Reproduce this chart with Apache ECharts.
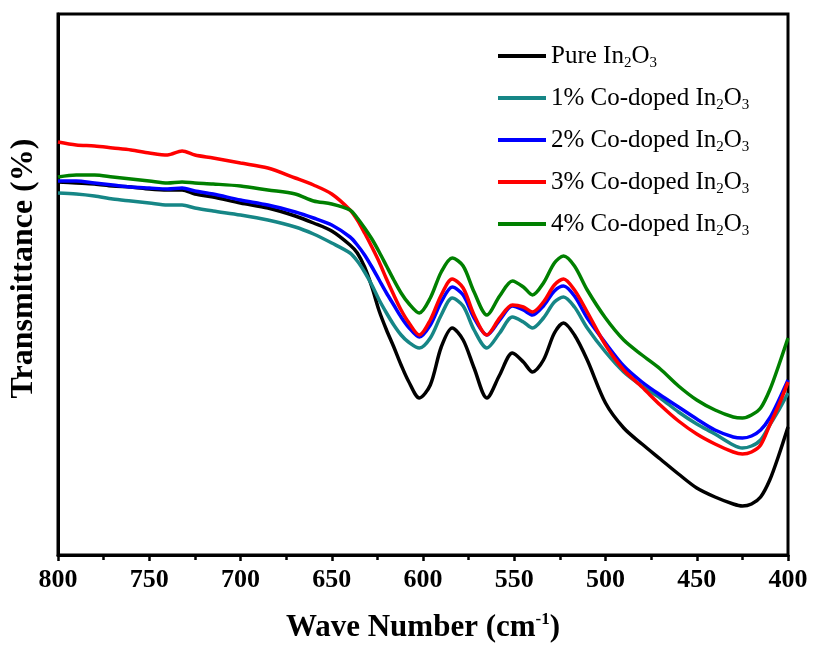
<!DOCTYPE html>
<html>
<head>
<meta charset="utf-8">
<script src="https://cdn.jsdelivr.net/npm/echarts@6/dist/echarts.min.js"></script>
<style>
html,body{margin:0;padding:0;background:#fff;}
#chart{width:813px;height:653px;}
</style>
</head>
<body>
<div id="chart"></div>
<script>
// Wave numbers (cm^-1)
const waveNumbers = [800,790,780,770,760,750,740,732,725,715,700,685,670,660,650,640,636,632,628,624,620,616,612,608,602,596,590,584,578,572,565,558,551,545,540,534,528,523,517,510,500,490,480,470,460,450,440,430,425,420,415,410,405,400];

// Transmittance (arbitrary units)
const pureIn2O3 = [373,372,371,369,368,366,365,365,361,358,352,347,339,332,324,310,302,288,268,244,225,208,190,174,157,170,208,227,215,187,157,180,202,193,183,195,222,232,220,195,152,127,111,96,81,67,58,51,49,51,58,75,100,128];
const co1 = [362,361,359,356,354,352,350,350,347,344,340,335,328,321,312,302,294,283,270,255,242,230,220,213,207,217,240,257,249,225,207,222,238,233,227,237,253,258,248,227,203,183,169,157,143,131,121,110,107,109,115,130,145,162];
const co2 = [374,374,372,370,368,367,366,367,364,361,355,350,343,337,330,318,310,300,288,275,262,250,238,228,218,230,253,268,260,237,220,235,249,245,240,249,264,269,259,237,212,189,173,160,148,136,125,118,117,119,125,137,155,175];
const co3 = [413,410,409,407,405,402,400,404,400,397,392,387,377,370,361,345,335,322,308,293,276,260,245,233,220,235,260,276,267,240,220,237,250,248,243,253,270,276,265,243,210,185,168,150,134,121,111,103,101,103,110,130,150,173];
const co4 = [378,380,380,378,376,374,372,373,372,371,369,365,361,354,351,345,337,327,316,303,289,275,262,252,242,257,283,297,289,263,240,259,274,268,260,272,292,299,289,265,237,215,200,186,169,155,145,138,137,140,147,165,190,217];

const seriesNames = ['Pure In{sub|2}O{sub|3}','1% Co-doped In{sub|2}O{sub|3}','2% Co-doped In{sub|2}O{sub|3}','3% Co-doped In{sub|2}O{sub|3}','4% Co-doped In{sub|2}O{sub|3}'];
const seriesKeys = ['Pure','1%','2%','3%','4%'];
const seriesData = [pureIn2O3, co1, co2, co3, co4];
const colors = ['#000000','#168686','#0000ff','#ff0000','#008000'];
const xTicks = [800,750,700,650,600,550,500,450,400];

const FONT = '"Liberation Serif", "Times New Roman", serif';

const chart = echarts.init(document.getElementById('chart'), null, {renderer:'canvas'});

const series = seriesData.map((vals, i) => ({
  name: seriesKeys[i],
  type: 'line',
  data: waveNumbers.map((w, j) => [w, vals[j]]),
  smooth: 0.3,
  showSymbol: false,
  symbol: 'none',
  lineStyle: {color: colors[i], width: 3.5},
  itemStyle: {color: colors[i]},
  z: 2 + i
}));

chart.setOption({
  animation: false,
  backgroundColor: '#fff',
  color: colors,
  grid: {left: 58, right: 25, top: 14, bottom: 98, show: true, borderColor: '#000', borderWidth: 3, backgroundColor: 'transparent'},
  legend: {
    orient: 'vertical',
    left: 493,
    top: 36,
    icon: 'rect',
    itemWidth: 48,
    itemHeight: 4,
    itemGap: 12,
    data: seriesKeys,
    formatter: function(name){ return seriesNames[seriesKeys.indexOf(name)]; },
    textStyle: {
      fontFamily: FONT, fontSize: 25, color: '#000', lineHeight: 30,
      rich: {
        sub: {fontFamily: FONT, fontSize: 15, color: '#000', lineHeight: 30, padding: [14,0,0,0]}
      }
    }
  },
  xAxis: {
    type: 'value',
    min: 400, max: 800, interval: 50,
    inverse: true,
    name: 'Wave Number (cm{sup|-1})',
    nameLocation: 'middle',
    nameGap: 56,
    nameTextStyle: {
      fontFamily: FONT, fontSize: 31, fontWeight: 'bold', color: '#000',
      rich: {sup: {fontFamily: FONT, fontSize: 17, fontWeight: 'bold', color: '#000', padding: [0,0,16,0]}}
    },
    axisLine: {show: true, onZero: false, lineStyle: {color: '#000', width: 3}},
    axisTick: {show: true, length: 6, lineStyle: {color: '#000', width: 2.5}},
    minorTick: {show: true, splitNumber: 2, length: 5, lineStyle: {color: '#000', width: 2.5}},
    splitLine: {show: false},
    axisLabel: {
      margin: 12,
      fontFamily: FONT, fontSize: 26, fontWeight: 'bold', color: '#000',
      customValues: xTicks
    }
  },
  yAxis: {
    type: 'value',
    min: 0, max: 541,
    name: 'Transmittance (%)',
    nameLocation: 'middle',
    nameGap: 18,
    nameRotate: 90,
    nameTextStyle: {fontFamily: FONT, fontSize: 32, fontWeight: 'bold', color: '#000', padding: [0,0,0,32]},
    axisLine: {show: true, lineStyle: {color: '#000', width: 3}},
    axisTick: {show: false},
    axisLabel: {show: false},
    splitLine: {show: false}
  },
  series: series
});
</script>
</body>
</html>
